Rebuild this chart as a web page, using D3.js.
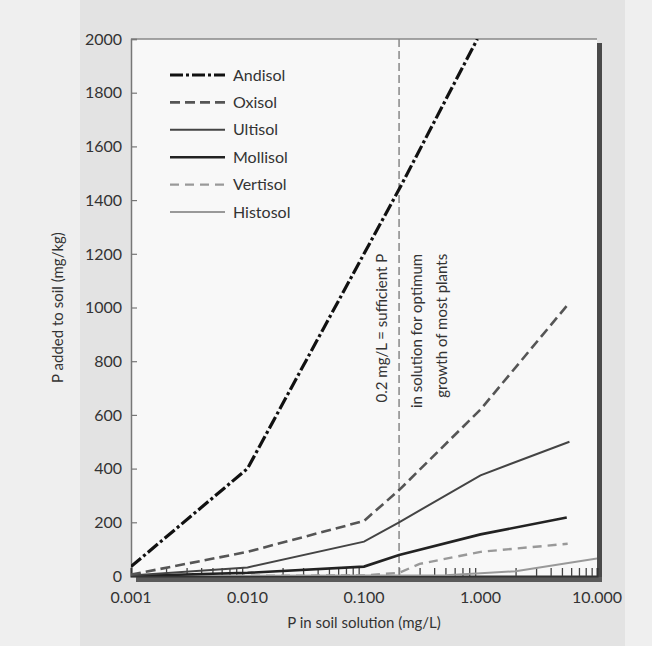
<!DOCTYPE html>
<html>
<head>
<meta charset="utf-8">
<script src="https://cdn.jsdelivr.net/npm/d3@7"></script>
<style>
  body { margin: 0; background: #eeeeee; }
  svg text { font-family: Lato, "Open Sans", sans-serif; fill: #333; }
</style>
</head>
<body>
<div id="chart"></div>
<script>
var width = 652,
    height = 646;

// values (x in mg/L, y in mg/kg)
var andisolX = [0.001, 0.01, 0.1, 0.2, 0.94];
var andisolY = [35, 400, 1200, 1440, 2000];
var oxisolX = [0.001, 0.01, 0.1, 0.2, 1, 5.6];
var oxisolY = [5, 90, 205, 320, 620, 1010];
var ultisolX = [0.001, 0.01, 0.1, 0.2, 1, 5.8];
var ultisolY = [2, 32, 128, 200, 375, 500];
var mollisolX = [0.001, 0.01, 0.1, 0.2, 1, 5.5];
var mollisolY = [0, 12, 35, 78, 155, 218];
var vertisolX = [0.001, 0.1, 0.2, 0.3, 1, 5.6];
var vertisolY = [0, 2, 12, 45, 90, 120];
var histosolX = [0.001, 0.5, 1, 2, 10];
var histosolY = [0, 3, 10, 18, 65];

var soilNames = ["Andisol", "Oxisol", "Ultisol", "Mollisol", "Vertisol", "Histosol"];
var xTicks = [0.001, 0.01, 0.1, 1, 10];
var xTickLabels = ["0.001", "0.010", "0.100", "1.000", "10.000"];
var yTicks = [0, 200, 400, 600, 800, 1000, 1200, 1400, 1600, 1800, 2000];
var refLineX = 0.2;
var refText = ["0.2 mg/L = sufficient P", "in solution for optimum", "growth of most plants"];

function pairs(xs, ys) {
  return xs.map(function(d, i) { return {x: d, y: ys[i]}; });
}

var series = [
  {name: soilNames[0], data: pairs(andisolX, andisolY), color: "#111", w: 3.2, dash: "13,3,3,3"},
  {name: soilNames[1], data: pairs(oxisolX, oxisolY), color: "#555", w: 2.6, dash: "10,5"},
  {name: soilNames[2], data: pairs(ultisolX, ultisolY), color: "#444", w: 2, dash: null},
  {name: soilNames[3], data: pairs(mollisolX, mollisolY), color: "#222", w: 2.6, dash: null},
  {name: soilNames[4], data: pairs(vertisolX, vertisolY), color: "#999", w: 2.4, dash: "9,6"},
  {name: soilNames[5], data: pairs(histosolX, histosolY), color: "#999", w: 2, dash: null}
];

var margin = {top: 39, right: 55, bottom: 70, left: 131};

var x = d3.scaleLog()
    .domain([0.001, 10])
    .range([margin.left, width - margin.right]);

var y = d3.scaleLinear()
    .domain([0, 2000])
    .range([height - margin.bottom, margin.top]);

var svg = d3.select("#chart").append("svg")
    .attr("width", width)
    .attr("height", height);

// background bands
svg.append("rect").attr("width", width).attr("height", height).attr("fill", "#efefef");
svg.append("rect").attr("x", 80).attr("y", 0).attr("width", 545).attr("height", height).attr("fill", "#e3e3e3");

var x0 = x.range()[0], x1 = x.range()[1],
    y0 = y.range()[0], y1 = y.range()[1];

svg.append("defs").append("clipPath").attr("id", "plotclip")
  .append("rect").attr("x", x0).attr("y", y1).attr("width", x1 - x0).attr("height", y0 - y1);

// plot area
svg.append("rect")
    .attr("x", x0).attr("y", y1)
    .attr("width", x1 - x0).attr("height", y0 - y1)
    .attr("fill", "#f8f8f8");

// shadow on right and bottom
svg.append("rect").attr("x", x1).attr("y", y1 + 4).attr("width", 5).attr("height", y0 - y1 + 1).attr("fill", "#4a4a4a");
svg.append("rect").attr("x", x0 + 5).attr("y", y0 + 1).attr("width", x1 - x0).attr("height", 5).attr("fill", "#5a5a5a");

// top frame
svg.append("line").attr("x1", x0).attr("x2", x1).attr("y1", y1).attr("y2", y1)
    .attr("stroke", "#888").attr("stroke-width", 1.5);

// y axis, ticks inside
var yAxis = svg.append("g")
    .attr("transform", "translate(" + x0 + ",0)")
    .call(d3.axisRight(y).tickValues(yTicks).tickSize(6).tickFormat(""));
yAxis.select(".domain").attr("stroke", "#777").attr("stroke-width", 1.5);
yAxis.selectAll(".tick line").attr("stroke", "#777").attr("stroke-width", 1.2);

svg.selectAll(".ylab")
  .data(yTicks).enter().append("text")
    .attr("class", "ylab")
    .attr("x", x0 - 9)
    .attr("y", function(d) { return y(d); })
    .attr("dy", "0.36em")
    .attr("text-anchor", "end")
    .style("font-size", "16px")
    .text(function(d) { return d; });

// x axis with log minor ticks pointing inwards
var minorTicks = x.ticks().filter(function(d) { return xTicks.indexOf(d) < 0; });
var xAxis = svg.append("g")
    .attr("transform", "translate(0," + y0 + ")")
    .call(d3.axisTop(x).tickValues(minorTicks).tickSize(8).tickFormat(""));
xAxis.select(".domain").attr("stroke", "#333").attr("stroke-width", 2);
xAxis.selectAll(".tick line").attr("stroke", "#444").attr("stroke-width", 1.3);

svg.selectAll(".xlab")
  .data(xTicks).enter().append("text")
    .attr("class", "xlab")
    .attr("x", function(d) { return x(d); })
    .attr("y", y0 + 27)
    .attr("text-anchor", "middle")
    .style("font-size", "16px")
    .text(function(d, i) { return xTickLabels[i]; });

// axis titles
svg.append("text")
    .attr("x", (x0 + x1) / 2)
    .attr("y", y0 + 52)
    .attr("text-anchor", "middle")
    .style("font-size", "15px")
    .text("P in soil solution (mg/L)");

svg.append("text")
    .attr("transform", "translate(63," + ((y0 + y1) / 2) + ") rotate(-90)")
    .attr("text-anchor", "middle")
    .style("font-size", "15px")
    .text("P added to soil (mg/kg)");

// reference line at 0.2 mg/L
svg.append("line")
    .attr("x1", x(refLineX)).attr("x2", x(refLineX))
    .attr("y1", y1).attr("y2", y0)
    .attr("stroke", "#888").attr("stroke-width", 1.5)
    .attr("stroke-dasharray", "8,4");

var refOffsets = [-12, 23, 48];
svg.selectAll(".reftext")
  .data(refText).enter().append("text")
    .attr("class", "reftext")
    .attr("transform", function(d, i) {
      return "translate(" + (x(refLineX) + refOffsets[i]) + "," + y(1200) + ") rotate(-90)";
    })
    .attr("text-anchor", "end")
    .style("font-size", "15px")
    .text(function(d) { return d; });

// soil curves
var line = d3.line()
    .x(function(d) { return x(d.x); })
    .y(function(d) { return y(d.y); });

var curves = svg.append("g").attr("clip-path", "url(#plotclip)");
curves.selectAll("path")
  .data(series.slice().reverse()).enter().append("path")
    .attr("d", function(d) { return line(d.data); })
    .attr("fill", "none")
    .attr("stroke", function(d) { return d.color; })
    .attr("stroke-width", function(d) { return d.w; })
    .attr("stroke-dasharray", function(d) { return d.dash; });

// legend
var legend = svg.append("g").attr("transform", "translate(170,75)");
var item = legend.selectAll("g")
  .data(series).enter().append("g")
    .attr("transform", function(d, i) { return "translate(0," + (i * 27.4) + ")"; });

item.append("line")
    .attr("x1", 0).attr("x2", 55)
    .attr("stroke", function(d) { return d.color; })
    .attr("stroke-width", function(d) { return d.w; })
    .attr("stroke-dasharray", function(d) { return d.dash; });

item.append("text")
    .attr("x", 63)
    .attr("dy", "0.35em")
    .style("font-size", "16px")
    .text(function(d) { return d.name; });
</script>
</body>
</html>
